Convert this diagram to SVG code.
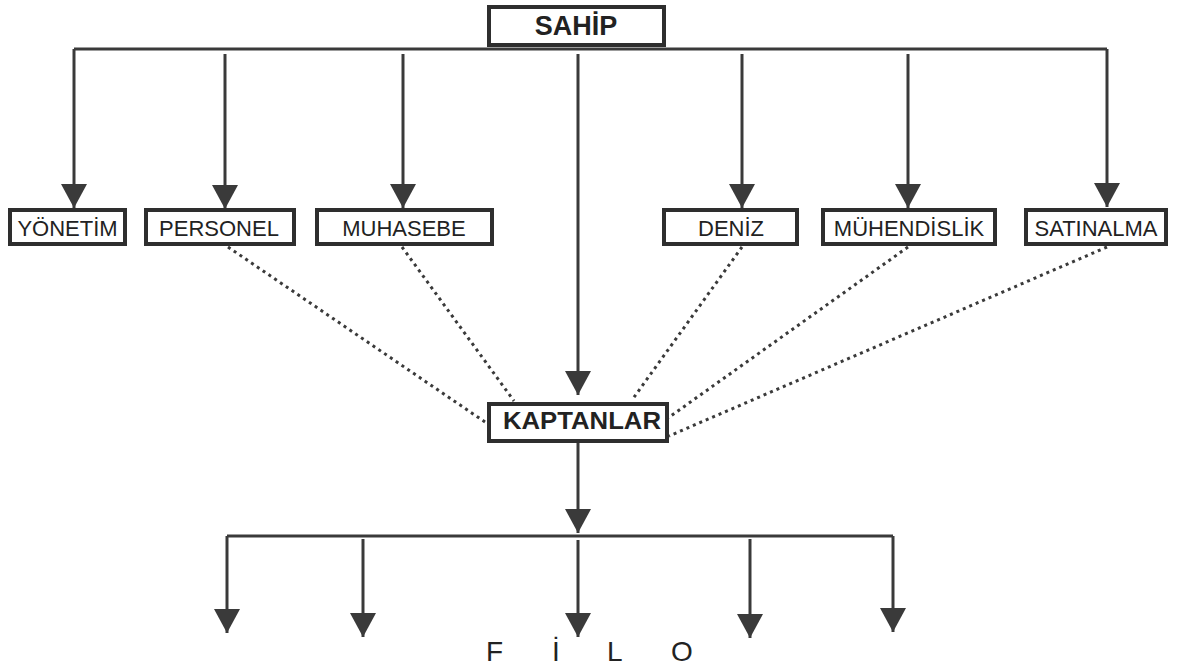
<svg xmlns="http://www.w3.org/2000/svg" width="1181" height="667" viewBox="0 0 1181 667">
  <defs>
    <style>
      .box { fill: #ffffff; stroke: #2e2e2e; stroke-width: 4; }
      .lbl { font-family: "Liberation Sans", Arial, sans-serif; font-size: 22px; fill: #222; text-anchor: middle; }
      .bold { font-weight: bold; }
      .line { fill: none; stroke: #3a3a3a; stroke-width: 3; }
      .arrow { fill: none; stroke: #3a3a3a; stroke-width: 3; marker-end: url(#head); }
      .dot { fill: none; stroke: #3a3a3a; stroke-width: 3; stroke-dasharray: 3 4; }
    </style>
    <marker id="head" markerUnits="userSpaceOnUse" markerWidth="25" markerHeight="27" refX="24" refY="13" orient="auto">
      <path d="M0,0 L24,13 L0,26 z" fill="#3a3a3a"/>
    </marker>
  </defs>
  <rect width="1181" height="667" fill="#ffffff"/>

  <!-- connectors -->
  <g id="connectors">
    <!-- owner bus -->
    <path class="line" d="M74,49 L1107,49"/>
    <path class="arrow" d="M74,49 L74,208"/>
    <path class="arrow" d="M225,54 L225,209"/>
    <path class="arrow" d="M403,54 L403,208"/>
    <path class="arrow" d="M578,54 L578,395"/>
    <path class="arrow" d="M742,54 L742,208"/>
    <path class="arrow" d="M908,54 L908,208"/>
    <path class="arrow" d="M1107,49 L1107,207"/>
    <!-- dotted links to captains -->
    <path class="dot" d="M228,247 L485,422"/>
    <path class="dot" d="M402,247 L514,401"/>
    <path class="dot" d="M742,247 L632,400"/>
    <path class="dot" d="M908,247 L668,418"/>
    <path class="dot" d="M1107,247 L669,436"/>
    <!-- fleet bus -->
    <path class="arrow" d="M578,442 L578,533"/>
    <path class="line" d="M227,536 L893,536"/>
    <path class="arrow" d="M227,536 L227,633"/>
    <path class="arrow" d="M363,539 L363,637"/>
    <path class="arrow" d="M578,540 L578,637"/>
    <path class="arrow" d="M750,539 L750,638"/>
    <path class="arrow" d="M893,536 L893,632"/>
  </g>

  <g id="sahip">
    <rect class="box" x="489" y="7" width="175" height="38"/>
    <text class="lbl bold" x="576" y="35" style="font-size:27px">SAHİP</text>
  </g>

  <g id="yonetim">
    <rect class="box" x="10" y="210" width="115" height="34"/>
    <text class="lbl" x="67.5" y="236">YÖNETİM</text>
  </g>
  <g id="personel">
    <rect class="box" x="146" y="210" width="148" height="34"/>
    <text class="lbl" x="219" y="236">PERSONEL</text>
  </g>
  <g id="muhasebe">
    <rect class="box" x="317" y="210" width="175" height="34"/>
    <text class="lbl" x="404" y="236">MUHASEBE</text>
  </g>
  <g id="deniz">
    <rect class="box" x="664" y="210" width="133" height="34"/>
    <text class="lbl" x="731" y="236">DENİZ</text>
  </g>
  <g id="muhendislik">
    <rect class="box" x="823" y="210" width="172" height="34"/>
    <text class="lbl" x="909" y="236">MÜHENDİSLİK</text>
  </g>
  <g id="satinalma">
    <rect class="box" x="1026" y="210" width="140" height="34"/>
    <text class="lbl" x="1096" y="236">SATINALMA</text>
  </g>

  <g id="kaptanlar">
    <rect class="box" x="489" y="404" width="178" height="37"/>
    <text class="lbl bold" x="582" y="429" style="font-size:23px" textLength="158" lengthAdjust="spacingAndGlyphs">KAPTANLAR</text>
  </g>

  <g id="filo">
    <text class="lbl" style="font-size:28px;text-anchor:start" y="661"><tspan x="486">F</tspan><tspan x="552">İ</tspan><tspan x="607">L</tspan><tspan x="671">O</tspan></text>
  </g>
</svg>
